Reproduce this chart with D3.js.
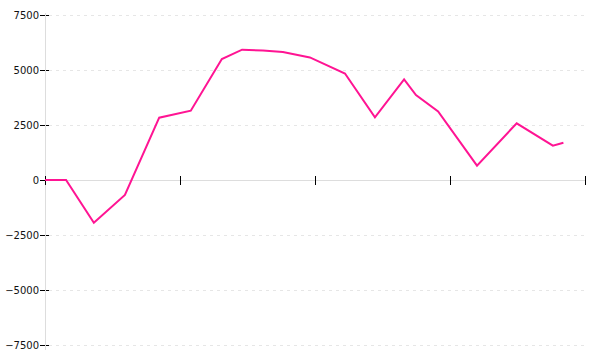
<!DOCTYPE html>
<html><head><meta charset="utf-8">
<script src="https://cdn.jsdelivr.net/npm/d3@7"></script>
<style>body{margin:0;background:#fff}svg{display:block}</style>
</head><body>
<svg id="c" width="600" height="360"></svg>
<script>
const xValues = [0, 0.78, 1.81, 2.96, 4.23, 5.4, 6.55, 7.3, 8.07, 8.81, 9.81, 11.11, 12.22, 13.3, 13.74, 14.56, 16.0, 17.47, 18.81, 19.2];
const yValues = [0, 0, -1941, -682, 2832, 3150, 5500, 5923, 5886, 5818, 5570, 4841, 2850, 4577, 3864, 3114, 650, 2577, 1559, 1695];
const yTicks = [-7500, -5000, -2500, 0, 2500, 5000, 7500];
const xTicks = [0, 5, 10, 15, 20];

const svg = d3.select("#c");
const x = d3.scaleLinear().domain([0, 20]).range([45, 585]);
const y = d3.scaleLinear().domain([-7500, 7500]).range([345, 15]);

// grid
svg.append("g").selectAll("line").data(yTicks.filter(d => d !== 0)).join("line")
  .attr("x1", 49).attr("x2", 585)
  .attr("y1", d => Math.round(y(d)) + 0.5).attr("y2", d => Math.round(y(d)) + 0.5)
  .attr("stroke", "#e6e6e6").attr("stroke-dasharray", "3,4");

// y axis
const ya = svg.append("g").attr("transform", "translate(45,0)")
  .call(d3.axisLeft(y).tickValues(yTicks).tickSize(5).tickPadding(1).tickFormat(d3.format("d")));
ya.select(".domain").remove();
ya.selectAll(".tick line").attr("x1", -5).attr("x2", 4).attr("stroke", "#000");
ya.selectAll("text").attr("font-family", "DejaVu Sans, Verdana, sans-serif").attr("font-size", 10).attr("fill", "#111");
svg.append("line").attr("x1", 45.5).attr("x2", 45.5).attr("y1", 13).attr("y2", 350).attr("stroke", "#ddd");

// x axis at zero
const xa = svg.append("g").attr("transform", `translate(0,${Math.round(y(0))})`)
  .call(d3.axisBottom(x).tickValues(xTicks).tickSize(4).tickFormat(""));
xa.select(".domain").attr("d", `M45,0.5H585`).attr("stroke", "#ddd");
xa.selectAll(".tick line").attr("y1", -4).attr("y2", 5).attr("stroke", "#000");

// line
const pts = xValues.map((v, i) => [v, yValues[i]]);
svg.append("path").datum(pts)
  .attr("fill", "none").attr("stroke", "#ff1493").attr("stroke-width", 2)
  .attr("d", d3.line().x(d => x(d[0])).y(d => y(d[1])));
</script>
</body></html>
